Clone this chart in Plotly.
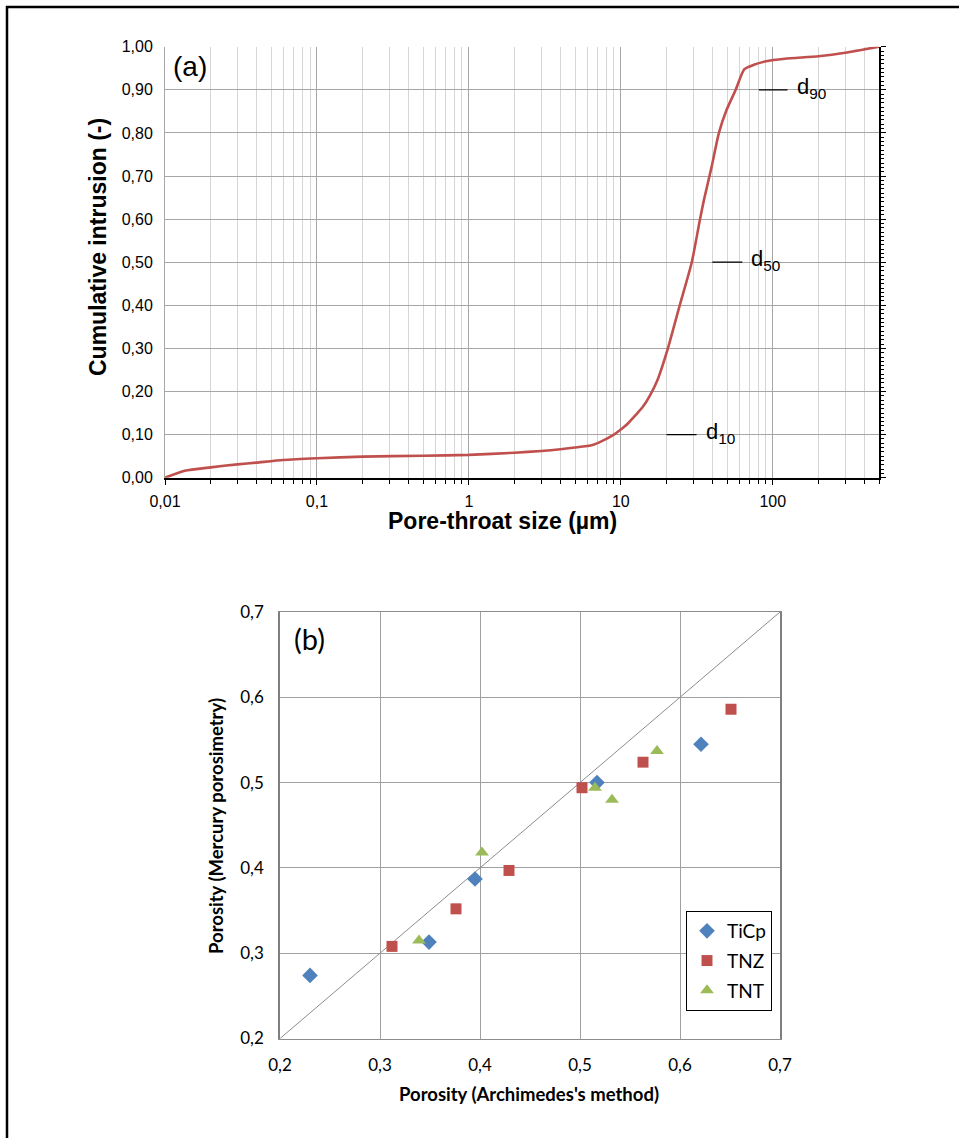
import math
import plotly.graph_objects as go

W, H = 959, 1138

# ---- (a) cumulative mercury intrusion curve ----
pore_size_um = [0.01, 0.0135, 0.02, 0.03, 0.04, 0.06, 0.1, 0.2, 0.5, 1, 2, 3, 4, 5,
                6.5, 7.5, 9, 10, 11, 12.5, 14, 15.5, 17.4, 20.4, 24.4, 29.3, 33, 35.2,
                39.5, 44.2, 49.6, 57, 65, 75, 90, 120, 200, 300, 500]
cum_intrusion = [0.0, 0.016, 0.024, 0.031, 0.035, 0.041, 0.045, 0.049, 0.051, 0.053,
                 0.058, 0.062, 0.066, 0.070, 0.076, 0.085, 0.100, 0.112, 0.124, 0.145,
                 0.165, 0.190, 0.226, 0.300, 0.400, 0.500, 0.595, 0.644, 0.720, 0.800,
                 0.853, 0.900, 0.948, 0.958, 0.966, 0.972, 0.978, 0.986, 1.0]

x_tick_vals = [0.01, 0.1, 1, 10, 100]
x_tick_text = ["0,01", "0,1", "1", "10", "100"]
x_minor_vals = [m * d for d in [0.01, 0.1, 1, 10, 100] for m in range(2, 10) if m * d <= 500]

# characteristic pore sizes marked next to the curve: (label, level, x-start, x-end)
d_labels = ["d<sub>10</sub>", "d<sub>50</sub>", "d<sub>90</sub>"]
d_levels = [0.10, 0.50, 0.90]
d_line_from = [20.0, 40.0, 81.0]
d_line_to = [31.5, 63.0, 125.0]

# ---- (b) porosity comparison ----
ticp_arch = [0.230, 0.349, 0.395, 0.517, 0.621]
ticp_hg = [0.274, 0.313, 0.387, 0.500, 0.545]
tnz_arch = [0.312, 0.376, 0.429, 0.502, 0.563, 0.651]
tnz_hg = [0.308, 0.352, 0.397, 0.494, 0.524, 0.586]
tnt_arch = [0.339, 0.402, 0.515, 0.532, 0.577]
tnt_hg = [0.315, 0.418, 0.494, 0.480, 0.537]
identity = [0.2, 0.7]

RED = "#C0504D"
BLUE = "#4F81BD"
GREEN = "#9BBB59"
ARIAL = "Liberation Sans, Arial, sans-serif"
CALIBRI = "Lato, Carlito, Calibri, sans-serif"


def fx(px):
    return px / W


def fy(py):
    return 1 - py / H


fig = go.Figure()

fig.add_trace(go.Scatter(
    x=pore_size_um, y=cum_intrusion, mode="lines",
    line=dict(color=RED, width=2.6, shape="spline", smoothing=0.6),
    xaxis="x", yaxis="y", showlegend=False, hoverinfo="skip"))
# carrier for the right-hand tick axis of panel (a)
fig.add_trace(go.Scatter(x=[], y=[], xaxis="x", yaxis="y3", showlegend=False))

for lab, lev, x0, x1 in zip(d_labels, d_levels, d_line_from, d_line_to):
    fig.add_shape(type="line", xref="x", yref="y", x0=x0, x1=x1, y0=lev, y1=lev,
                  line=dict(color="black", width=1.3))
    # annotation positions on a log axis are given in log10 units
    fig.add_annotation(xref="x", yref="y", x=math.log10(x1), y=lev, text=lab,
                       showarrow=False, xanchor="left", yanchor="middle",
                       xshift=7, yshift=2,
                       font=dict(family=ARIAL, size=22, color="black"))

fig.add_trace(go.Scatter(
    x=identity, y=identity, mode="lines", line=dict(color="#8c8c8c", width=1),
    xaxis="x2", yaxis="y2", showlegend=False, hoverinfo="skip"))
fig.add_trace(go.Scatter(
    x=ticp_arch, y=ticp_hg, mode="markers", name="TiCp", legendgroup="a",
    marker=dict(symbol="diamond", size=12, color=BLUE), xaxis="x2", yaxis="y2"))
fig.add_trace(go.Scatter(
    x=tnz_arch, y=tnz_hg, mode="markers", name="TNZ", legendgroup="b",
    marker=dict(symbol="square", size=11, color=RED), xaxis="x2", yaxis="y2"))
fig.add_trace(go.Scatter(
    x=tnt_arch, y=tnt_hg, mode="markers", name="TNT", legendgroup="c",
    marker=dict(symbol="triangle-up", size=12, color=GREEN), xaxis="x2", yaxis="y2"))

tick_font_a = dict(family=ARIAL, size=16, color="black")
tick_font_b = dict(family=CALIBRI, size=17, color="black")

fig.update_layout(
    width=W, height=H,
    margin=dict(l=0, r=0, t=0, b=0, pad=0, autoexpand=False),
    paper_bgcolor="white", plot_bgcolor="white",
    separators=", ",
    showlegend=True,
    legend=dict(x=fx(729), y=fy(911), xanchor="center", yanchor="top",
                bgcolor="white", bordercolor="black", borderwidth=1,
                font=dict(family=CALIBRI, size=19, color="black"),
                tracegroupgap=2, itemwidth=30),
    xaxis=dict(
        type="log", domain=[fx(165), fx(879)], range=[-2, 2.69897], anchor="y",
        tickvals=x_tick_vals, ticktext=x_tick_text, tickfont=tick_font_a,
        showgrid=True, gridcolor="#a6a6a6", gridwidth=1,
        showline=True, linecolor="black", linewidth=1.5,
        ticks="outside", ticklen=6, tickcolor="black", ticklabelstandoff=2,
        minor=dict(tickvals=x_minor_vals, showgrid=True, gridcolor="#d6d6d6",
                   ticks="outside", ticklen=5, tickcolor="black"),
        zeroline=False, automargin=False),
    yaxis=dict(
        domain=[fy(477.7), fy(46.7)], range=[0, 1], anchor="x",
        dtick=0.1, tickformat=".2f", tickfont=tick_font_a,
        showgrid=True, gridcolor="#a6a6a6", gridwidth=1,
        showline=True, linecolor="#a6a6a6", linewidth=1,
        ticks="", ticklabelstandoff=8, zeroline=False, automargin=False),
    yaxis3=dict(
        overlaying="y", side="right", anchor="x", range=[0, 1],
        showgrid=False, showticklabels=False, zeroline=False,
        showline=True, linecolor="black", linewidth=1.5,
        dtick=0.1, ticks="outside", ticklen=5, tickcolor="black",
        minor=dict(dtick=0.01, ticks="outside", ticklen=3, tickcolor="black"),
        automargin=False),
    xaxis2=dict(
        domain=[fx(280), fx(780)], range=[0.2, 0.7], anchor="y2",
        dtick=0.1, tickformat=".1f", tickfont=tick_font_b,
        showgrid=True, gridcolor="#a0a0a0", gridwidth=1,
        showline=True, linecolor="#8c8c8c", linewidth=1.2, mirror=True,
        ticks="", ticklabelstandoff=11, zeroline=False, automargin=False),
    yaxis2=dict(
        domain=[fy(1038.5), fy(612)], range=[0.2, 0.7], anchor="x2",
        dtick=0.1, tickformat=".1f", tickfont=tick_font_b,
        showgrid=True, gridcolor="#a0a0a0", gridwidth=1,
        showline=True, linecolor="#7f7f7f", linewidth=1.6, mirror=True,
        ticks="", ticklabelstandoff=11, zeroline=False, automargin=False),
)

texts = [
    dict(x=fx(171), y=fy(66), text="(a)", xanchor="left",
         font=dict(family=ARIAL, size=28, color="black")),
    dict(x=fx(502), y=fy(521), text="<b>Pore-throat size (µm)</b>", xanchor="center",
         font=dict(family=ARIAL, size=23, color="black")),
    dict(x=fx(98), y=fy(247), text="<b>Cumulative intrusion (-)</b>", xanchor="center",
         textangle=-90, font=dict(family=ARIAL, size=23, color="black")),
    dict(x=fx(292), y=fy(638), text="(b)", xanchor="left",
         font=dict(family=CALIBRI, size=29, color="black")),
    dict(x=fx(529), y=fy(1094), text="<b>Porosity (Archimedes's method)</b>",
         xanchor="center", font=dict(family=CALIBRI, size=18.5, color="black")),
    dict(x=fx(216), y=fy(826), text="<b>Porosity (Mercury porosimetry)</b>",
         xanchor="center", textangle=-90,
         font=dict(family=CALIBRI, size=18.5, color="black")),
]
for t in texts:
    fig.add_annotation(xref="paper", yref="paper", showarrow=False, yanchor="middle", **t)

# outer frame (top and left edges)
fig.add_shape(type="line", xref="paper", yref="paper", x0=fx(6), x1=1, y0=fy(7), y1=fy(7),
              line=dict(color="black", width=2.5))
fig.add_shape(type="line", xref="paper", yref="paper", x0=fx(7), x1=fx(7), y0=fy(6), y1=0,
              line=dict(color="black", width=2.5))

fig.write_html("out.html")
